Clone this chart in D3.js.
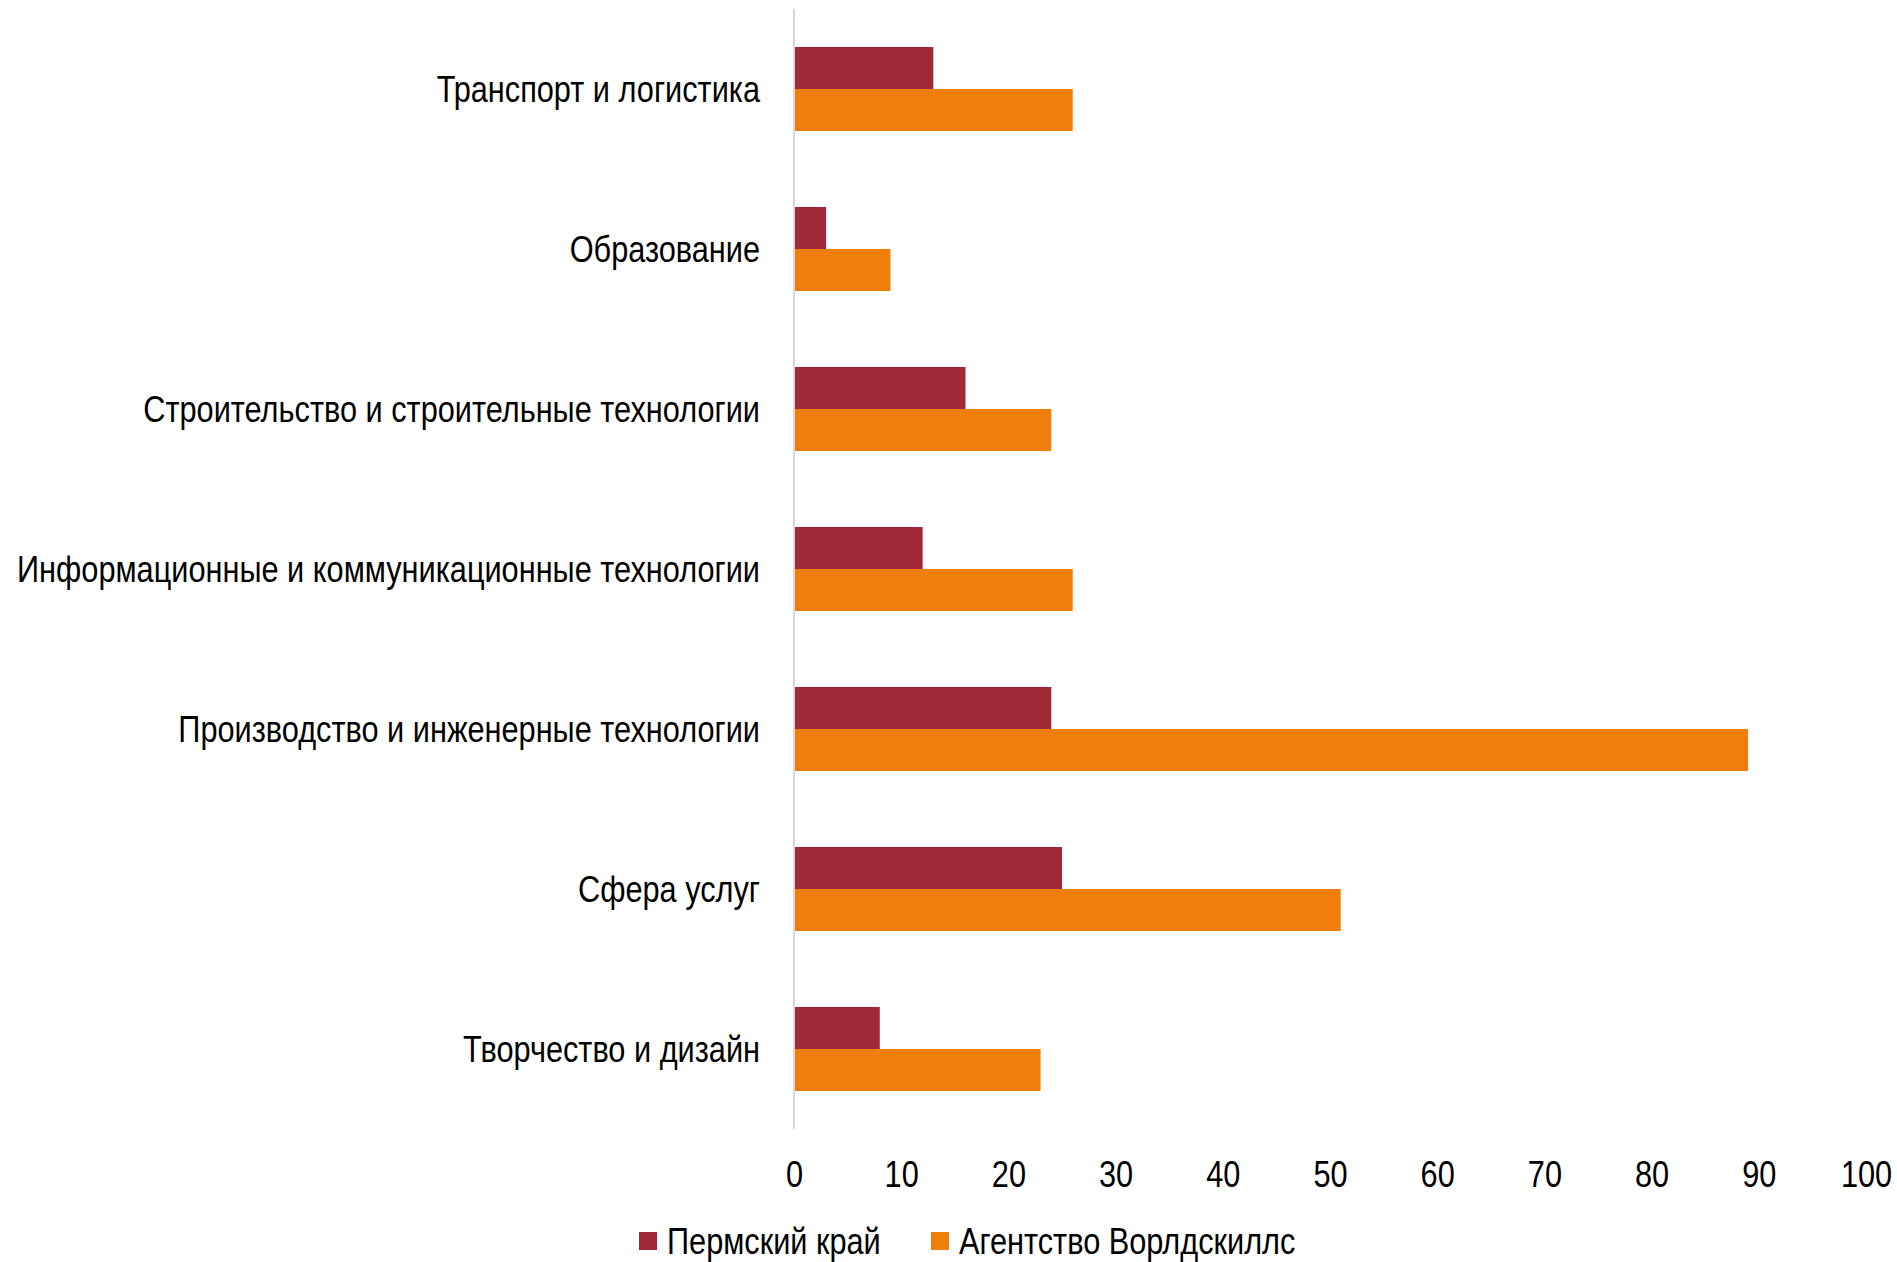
<!DOCTYPE html>
<html><head><meta charset="utf-8">
<script src="https://cdn.jsdelivr.net/npm/d3@7"></script>
<style>
html,body{margin:0;padding:0;background:#fff;}
text{font-family:"Liberation Sans",Arial,sans-serif;fill:#000;}
</style></head>
<body>
<svg id="chart" width="1897" height="1262"></svg>
<script>
const categories = ["Транспорт и логистика","Образование","Строительство и строительные технологии","Информационные и коммуникационные технологии","Производство и инженерные технологии","Сфера услуг","Творчество и дизайн"];
const seriesNames = ["Пермский край","Агентство Ворлдскиллс"];
const permValues = [13,3,16,12,24,25,8];
const wsValues = [26,9,24,26,89,51,23];
const xTicks = [0,10,20,30,40,50,60,70,80,90,100];
const colors = ["#A02837","#EF7F0A"];
const SX = 0.83; // horizontal condensing to mimic a narrow face
const FS = "37px";

const svg = d3.select("#chart");
const x = d3.scaleLinear().domain([0,100]).range([794,1866]);
const y = d3.scaleBand().domain(categories).range([9,1129]).paddingInner(0.475).paddingOuter(0.2375);
const ySub = d3.scaleBand().domain(seriesNames).range([0,y.bandwidth()]);

const data = categories.map((c,i)=>({cat:c, vals:[permValues[i], wsValues[i]]}));

const g = svg.append("g");
g.selectAll("g.cat").data(data).join("g").attr("class","cat")
  .attr("transform",d=>`translate(0,${y(d.cat)})`)
  .selectAll("rect").data(d=>d.vals.map((v,j)=>({v,s:seriesNames[j],j})))
  .join("rect")
  .attr("x",x(0)+1).attr("y",d=>ySub(d.s))
  .attr("width",d=>x(d.v)-x(0)-1).attr("height",ySub.bandwidth())
  .attr("fill",d=>colors[d.j]);

// vertical axis line
svg.append("line").attr("x1",x(0)).attr("x2",x(0)).attr("y1",9).attr("y2",1129)
  .attr("stroke","#d9d9d9").attr("stroke-width",2);

// category labels
const yAxis = d3.axisLeft(y).tickSize(0).tickPadding(34);
const ya = svg.append("g").attr("transform",`translate(${x(0)},0)`).call(yAxis);
ya.select(".domain").remove();
ya.selectAll("text").style("font-size",FS).attr("fill","#000").attr("dy","0.35em")
  .attr("x",-34/SX).attr("transform",`scale(${SX},1)`);

// x tick labels
const xAxis = d3.axisBottom(x).tickValues(xTicks).tickSize(0).tickPadding(0);
const xa = svg.append("g").attr("transform","translate(0,1161)").call(xAxis);
xa.select(".domain").remove();
xa.selectAll("text").style("font-size",FS).attr("fill","#000").attr("dy","0.71em")
  .attr("transform",`scale(${SX},1)`);

// legend
const legX = [639, 931];
const leg = svg.append("g");
seriesNames.forEach((s,i)=>{
  leg.append("rect").attr("x",legX[i]).attr("y",1232).attr("width",18).attr("height",18).attr("fill",colors[i]);
  leg.append("g").attr("transform",`translate(${legX[i]+28},1241) scale(${SX},1)`)
    .append("text").attr("dy","0.35em").style("font-size",FS).text(s);
});
</script>
</body></html>
